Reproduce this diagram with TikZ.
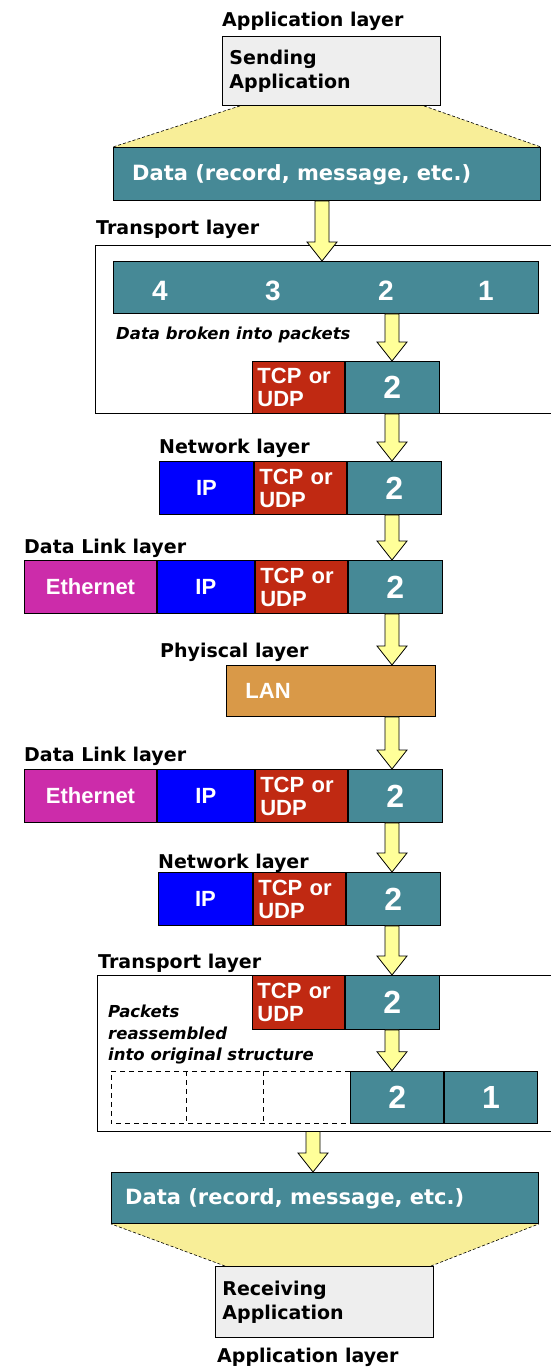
\documentclass[tikz,border=0pt]{standalone}
\usepackage{fontspec}
\setmainfont{DejaVu Sans}
\newfontfamily\cellfont{Liberation Sans}
\usetikzlibrary{calc,backgrounds}

\definecolor{segteal}{RGB}{70,137,150}
\definecolor{tcpred}{RGB}{192,41,18}
\definecolor{ipblue}{RGB}{0,0,255}
\definecolor{ethpink}{RGB}{204,44,170}
\definecolor{lanorange}{RGB}{217,153,72}
\definecolor{fanyellow}{RGB}{248,238,152}
\definecolor{flowyellow}{RGB}{255,255,153}
\definecolor{appgrey}{RGB}{238,238,238}

\tikzset{
  cell/.style={draw=black, line width=0.9pt, minimum height=53pt, inner sep=0pt,
    text=white, font=\cellfont\bfseries\fontsize{22}{23}\selectfont},
  segcell/.style={cell, fill=segteal, minimum width=94pt,
    font=\cellfont\bfseries\fontsize{32}{32}\selectfont},
  tcpcell/.style={cell, fill=tcpred, text width=82pt, inner xsep=5pt, align=left},
  ipcell/.style={cell, fill=ipblue, minimum width=94pt},
  ethcell/.style={cell, fill=ethpink, minimum width=132pt},
  gapcell/.style={draw=none, minimum height=52pt, inner sep=0pt},
  gapline/.style={line width=0.8pt, dash pattern=on 5pt off 4pt},
  datacell/.style={cell, fill=segteal, minimum width=427pt, anchor=north west},
  datatext/.style={anchor=west, inner sep=0pt, text=white,
    font=\bfseries\fontsize{21}{24}\selectfont},
  bardigit/.style={inner sep=0pt, text=white,
    font=\cellfont\bfseries\fontsize{28}{28}\selectfont},
  appbox/.style={draw=black, line width=0.9pt, fill=appgrey, anchor=north west,
    text width=204pt, inner xsep=7pt, inner ysep=0pt, align=left,
    minimum width=218pt, font=\bfseries\fontsize{19}{24}\selectfont},
  layerlabel/.style={anchor=base west, inner sep=0pt,
    font=\bfseries\fontsize{19}{22}\selectfont},
  note/.style={anchor=north west, inner sep=0pt, align=left,
    font=\bfseries\itshape\fontsize{16.5}{21.5}\selectfont},
  tframe/.style={anchor=north west, inner sep=0pt, draw=none, minimum width=470pt},
  frameline/.style={line width=0.9pt},
  fanedge/.style={line width=0.6pt, dash pattern=on 3pt off 2pt},
  flow/.style={draw=black, line width=0.8pt, fill=flowyellow, line join=miter}
}

% yellow block arrow from #1 down to #2
\newcommand\flowarrow[2]{%
  \draw[flow] ($(#1)+(-7,0)$) -- ($(#2)+(-7,-19)$) -- ($(#2)+(-15,-19)$) -- (#2)
    -- ($(#2)+(15,-19)$) -- ($(#2)+(7,-19)$) -- ($(#1)+(7,0)$) -- cycle;}

\begin{document}
\begin{tikzpicture}[x=1pt,y=-1pt]
    \useasboundingbox (0,0) rectangle (551,1367);
    \coordinate (colA) at (322,0);
    \coordinate (colB) at (392,0);
    \coordinate (colC) at (313,0);

    %% Transport frames
    \node[tframe, minimum height=168pt] (tp1) at (95,245) {};
    \draw[frameline] (tp1.north east) -- (tp1.north west) -- (tp1.south west) -- (tp1.south east);
    \node[tframe, minimum height=156pt] (tp2) at (97,975) {};
    \draw[frameline] (tp2.north east) -- (tp2.north west) -- (tp2.south west) -- (tp2.south east);

    %% Sending application
    \node[layerlabel] (applbl1) at (222,27) {Application layer};
    \node[appbox, minimum height=69pt] (sendapp) at (222,36) {Sending\\Application};
    \node[datacell] (data1) at (113,147) {};
    \node[datatext] (data1txt) at ($(data1.west)+(19,1)$) {Data (record, message, etc.)};

    %% Transport layer (sending)
    \node[layerlabel] (tplbl1) at (96,234) {Transport layer};
    \node[cell, fill=segteal, minimum width=425pt, minimum height=52pt, anchor=north west] (bar) at (113,261) {};
    \node[bardigit] (p4) at (160,291) {4};
    \node[bardigit] (p3) at (273,291) {3};
    \node[bardigit] (p2) at (386,291) {2};
    \node[bardigit] (p1) at (486,291) {1};
    \node[note] (brokenlbl) at (116,327) {Data broken into packets};
    \node[tcpcell, anchor=north west, minimum height=52pt] (tcpA) at (252,361) {TCP or\\UDP};
    \node[segcell, anchor=west, minimum height=52pt] (segA) at (tcpA.east) {2};

    %% Network layer
    \node[layerlabel] (netlbl1) at (159,453) {Network layer};
    \node[ipcell, anchor=north west] (ipB) at (159,461) {IP};
    \node[tcpcell, anchor=west] (tcpB) at (ipB.east) {TCP or\\UDP};
    \node[segcell, anchor=west] (segB) at (tcpB.east) {2};

    %% Data link layer
    \node[layerlabel] (dllbl1) at (24,553) {Data Link layer};
    \node[ethcell, anchor=north west] (ethC) at (24,560) {Ethernet};
    \node[ipcell, anchor=west, minimum width=97pt] (ipC) at (ethC.east) {IP};
    \node[tcpcell, anchor=west] (tcpC) at (ipC.east) {TCP or\\UDP};
    \node[segcell, anchor=west] (segC) at (tcpC.east) {2};

    %% Physical layer
    \node[layerlabel] (phylbl) at (160,657) {Phyiscal layer};
    \node[cell, fill=lanorange, minimum width=209pt, minimum height=51pt, anchor=north west,
      text width=171pt, inner xsep=19pt, align=left] (lan) at (226,665) {LAN};

    %% Data link layer (receiving)
    \node[layerlabel] (dllbl2) at (24,761) {Data Link layer};
    \node[ethcell, anchor=north west] (ethD) at (24,769) {Ethernet};
    \node[ipcell, anchor=west, minimum width=97pt] (ipD) at (ethD.east) {IP};
    \node[tcpcell, anchor=west] (tcpD) at (ipD.east) {TCP or\\UDP};
    \node[segcell, anchor=west] (segD) at (tcpD.east) {2};

    %% Network layer (receiving)
    \node[layerlabel] (netlbl2) at (158,868) {Network layer};
    \node[ipcell, anchor=north west] (ipE) at (158,872) {IP};
    \node[tcpcell, anchor=west] (tcpE) at (ipE.east) {TCP or\\UDP};
    \node[segcell, anchor=west] (segE) at (tcpE.east) {2};

    %% Transport layer (receiving)
    \node[layerlabel] (tplbl2) at (98,968) {Transport layer};
    \node[tcpcell, anchor=north west, minimum height=54pt] (tcpF) at (252,975) {TCP or\\UDP};
    \node[segcell, anchor=west, minimum height=54pt] (segF) at (tcpF.east) {2};
    \node[note] (reasmlbl) at (108,1005) {Packets\\reassembled\\into original structure};
    \node[gapcell, anchor=north west, minimum width=75pt] (gap3) at (111,1071) {};
    \node[gapcell, anchor=west, minimum width=77pt] (gap2) at (gap3.east) {};
    \node[gapcell, anchor=west, minimum width=86pt] (gap1) at (gap2.east) {};
    \node[segcell, anchor=west, minimum width=93pt, minimum height=52pt] (seg2) at (gap1.east) {2};
    \node[segcell, anchor=west, minimum width=93pt, minimum height=52pt] (seg1) at (seg2.east) {1};
    \draw[gapline] (gap1.north east) -- (gap3.north west) -- (gap3.south west) -- (gap1.south east);
    \draw[gapline] (gap3.north east) -- (gap3.south east);
    \draw[gapline] (gap2.north east) -- (gap2.south east);

    %% Receiving application
    \node[datacell, minimum height=51pt] (data2) at (111,1172) {};
    \node[datatext] (data2txt) at ($(data2.west)+(14,1)$) {Data (record, message, etc.)};
    \node[appbox, minimum height=71pt] (recvapp) at (215,1266) {Receiving\\Application};
    \node[layerlabel] (applbl2) at (217,1362) {Application layer};

    %% Fans between application and data
    \begin{scope}[on background layer]
      \fill[fanyellow] ($(sendapp.south west)+(18,0)$) -- ($(sendapp.south east)+(-17,0)$)
        -- (data1.north east) -- (data1.north west) -- cycle;
      \fill[fanyellow] ($(recvapp.north west)+(10,0)$) -- ($(recvapp.north east)+(-3,0)$)
        -- (data2.south east) -- (data2.south west) -- cycle;
    \end{scope}
    \draw[fanedge] ($(sendapp.south west)+(18,0)$) -- (data1.north west);
    \draw[fanedge] ($(sendapp.south east)+(-17,0)$) -- (data1.north east);
    \draw[fanedge] ($(recvapp.north west)+(10,0)$) -- (data2.south west);
    \draw[fanedge] ($(recvapp.north east)+(-3,0)$) -- (data2.south east);

    %% Flow arrows
    \flowarrow{data1.south -| colA}{bar.north -| colA}
    \flowarrow{bar.south -| colB}{segA.north -| colB}
    \flowarrow{segA.south -| colB}{segB.north -| colB}
    \flowarrow{segB.south -| colB}{segC.north -| colB}
    \flowarrow{segC.south -| colB}{lan.north -| colB}
    \flowarrow{lan.south -| colB}{segD.north -| colB}
    \flowarrow{segD.south -| colB}{segE.north -| colB}
    \flowarrow{segE.south -| colB}{segF.north -| colB}
    \flowarrow{segF.south -| colB}{seg2.north -| colB}
    \flowarrow{tp2.south -| colC}{data2.north -| colC}
\end{tikzpicture}
\end{document}
